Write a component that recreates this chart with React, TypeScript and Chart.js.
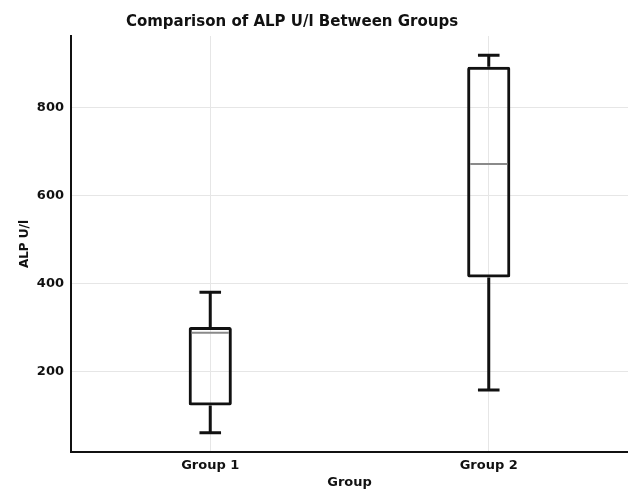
import React, { useEffect, useRef } from "react";
import { Chart, registerables } from "chart.js";

Chart.register(...registerables);

const groups = ["Group 1", "Group 2"];
const mins = [61, 158];
const q1s = [123, 414];
const medians = [288, 672];
const q3s = [301, 893];
const maxs = [380, 919];
const yTicks = [200, 400, 600, 800];
const yMin = 17;
const yMax = 963;
const titleText = "Comparison of ALP U/l Between Groups";
const yLabel = "ALP U/l";
const xLabel = "Group";

const FONT = "'DejaVu Sans', sans-serif";

const boxExtras = {
  id: "boxExtras",
  afterDatasetsDraw(chart: any) {
    const { ctx, scales } = chart;
    const x = scales.x;
    const y = scales.y;
    const meta = chart.getDatasetMeta(0);
    ctx.save();
    ctx.lineCap = "butt";
    groups.forEach((_, i) => {
      const bar: any = meta.data[i];
      const cx = x.getPixelForValue(i);
      const half = bar.width / 2;
      const capHalf = half / 2;
      const yq1 = y.getPixelForValue(q1s[i]);
      const yq3 = y.getPixelForValue(q3s[i]);
      const ymin = y.getPixelForValue(mins[i]);
      const ymax = y.getPixelForValue(maxs[i]);
      const ymed = y.getPixelForValue(medians[i]);
      ctx.strokeStyle = "#111";
      ctx.lineWidth = 3;
      ctx.beginPath();
      ctx.moveTo(cx, yq3);
      ctx.lineTo(cx, ymax);
      ctx.moveTo(cx, yq1);
      ctx.lineTo(cx, ymin);
      ctx.moveTo(cx - capHalf, ymax);
      ctx.lineTo(cx + capHalf, ymax);
      ctx.moveTo(cx - capHalf, ymin);
      ctx.lineTo(cx + capHalf, ymin);
      ctx.stroke();
      ctx.strokeStyle = "#8a8a8a";
      ctx.lineWidth = 2;
      ctx.beginPath();
      ctx.moveTo(cx - half + 3, ymed);
      ctx.lineTo(cx + half - 3, ymed);
      ctx.stroke();
    });
    ctx.restore();
  },
  afterDraw(chart: any) {
    const { ctx } = chart;
    ctx.save();
    ctx.fillStyle = "#111";
    ctx.font = `bold 15px ${FONT}`;
    ctx.textAlign = "center";
    ctx.textBaseline = "middle";
    ctx.fillText(titleText, 292, 22);
    ctx.restore();
  },
};

export default function App() {
  const ref = useRef<HTMLCanvasElement | null>(null);
  useEffect(() => {
    if (!ref.current) return;
    const chart = new Chart(ref.current, {
      type: "bar",
      data: {
        labels: groups,
        datasets: [
          {
            data: groups.map((_, i) => [q1s[i], q3s[i]]) as any,
            backgroundColor: "rgba(0,0,0,0)",
            borderColor: "#111",
            borderWidth: 3,
            borderSkipped: false,
            borderRadius: 2,
            barPercentage: 0.155,
            categoryPercentage: 1,
          },
        ],
      },
      options: {
        responsive: false,
        animation: false,
        layout: { padding: { top: 36, left: 0, right: 0, bottom: 0 } },
        plugins: {
          legend: { display: false },
          tooltip: { enabled: false },
          title: { display: false },
        },
        scales: {
          x: {
            type: "category",
            offset: true,
            afterFit: (s: any) => {
              s.height = 40;
            },
            grid: { offset: false, color: "#e6e6e6", lineWidth: 1, drawTicks: false },
            border: { color: "#111", width: 2 },
            ticks: {
              color: "#111",
              padding: 6,
              font: { family: FONT, size: 13, weight: "bold" },
            },
            title: {
              display: true,
              text: xLabel,
              color: "#111",
              padding: { top: 0, bottom: 2 },
              font: { family: FONT, size: 13, weight: "bold" },
            },
          },
          y: {
            type: "linear",
            min: yMin,
            max: yMax,
            afterFit: (s: any) => {
              s.width = 71;
            },
            afterBuildTicks: (s: any) => {
              s.ticks = yTicks.map((v) => ({ value: v }));
            },
            grid: { color: "#e6e6e6", lineWidth: 1, drawTicks: false },
            border: { color: "#111", width: 2 },
            ticks: {
              color: "#111",
              padding: 7,
              font: { family: FONT, size: 13, weight: "bold" },
            },
            title: {
              display: true,
              text: yLabel,
              color: "#111",
              padding: { top: 18, bottom: 0 },
              font: { family: FONT, size: 12, weight: "bold" },
            },
          },
        },
      },
      plugins: [boxExtras],
    });
    return () => chart.destroy();
  }, []);
  return (
    <div style={{ position: "fixed", left: 0, top: 0, width: 628, height: 492, background: "#fff" }}>
      <canvas ref={ref} width={628} height={492} style={{ display: "block" }} />
    </div>
  );
}
